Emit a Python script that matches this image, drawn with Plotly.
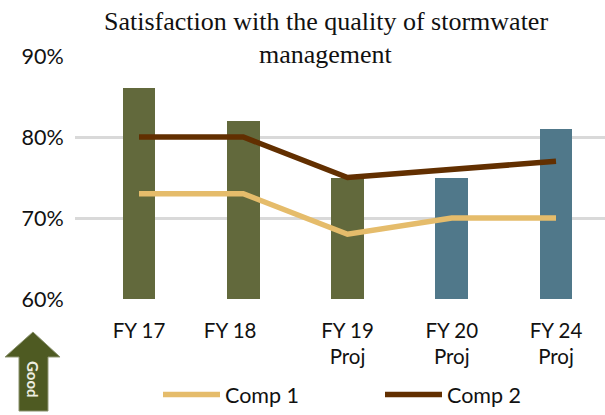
import plotly.graph_objects as go

W, H = 605, 415
categories = ["FY 17", "FY 18", "FY 19", "FY 20", "FY 24"]
tick_labels = ["FY 17", "FY 18\u00a0\u00a0\u00a0\u00a0\u00a0", "FY 19<br>Proj", "FY 20<br>Proj", "FY 24<br>Proj"]
bar_values = [86, 82, 75, 75, 81]
bar_colors = ["#62693C", "#62693C", "#62693C", "#50788A", "#50788A"]
comp1 = [73, 73, 68, 70, 70]
comp2 = [80, 80, 75, 76, 77]
y_ticks = [60, 70, 80, 90]
y_labels = ["60%", "70%", "80%", "90%"]
title_lines = ["Satisfaction with the quality of stormwater", "management"]

SANS = "Lato, Carlito, sans-serif"
SERIF = "Liberation Serif"
x = list(range(len(categories)))

fig = go.Figure()
fig.add_trace(go.Bar(x=x, y=bar_values, marker=dict(color=bar_colors, line_width=0),
                     width=0.316, showlegend=False, name="Satisfaction"))
fig.add_trace(go.Scatter(x=x, y=comp1, mode="lines", name="Comp 1",
                         line=dict(color="#E5BC6B", width=5.5)))
fig.add_trace(go.Scatter(x=x, y=comp2, mode="lines", name="Comp 2",
                         line=dict(color="#622F00", width=5.5)))

px = lambda v: v / W
py = lambda v: 1 - v / H
arrow = [(5, 357), (33, 332), (60, 357), (48, 357), (48, 411), (19, 411), (19, 357)]
path = "M " + " L ".join(f"{px(a):.4f},{py(b):.4f}" for a, b in arrow) + " Z"

fig.update_layout(
    width=W, height=H, autosize=False,
    margin=dict(l=0, r=0, t=0, b=0),
    paper_bgcolor="white", plot_bgcolor="white",
    font=dict(family=SANS, color="#111111", size=21),
    bargap=0,
    xaxis=dict(domain=[px(75), 1], range=[-0.614, 4.47], automargin=False,
               tickmode="array", tickvals=x, ticktext=tick_labels,
               showgrid=False, zeroline=False, showline=False,
               ticks="outside", ticklen=13, tickcolor="rgba(0,0,0,0)",
               tickfont=dict(family=SANS, size=20.5, color="#111111")),
    yaxis=dict(domain=[py(299), py(56)], range=[60, 90], automargin=False,
               tickmode="array", tickvals=y_ticks, ticktext=y_labels,
               showgrid=True, gridcolor="#D9D9D9", gridwidth=2.5,
               zeroline=False, showline=False,
               ticks="outside", ticklen=6, tickcolor="rgba(0,0,0,0)",
               tickfont=dict(family=SANS, size=21.5, color="#111111")),
    legend=dict(orientation="h", x=px(158), xref="paper", xanchor="left",
                y=0, yanchor="bottom", itemwidth=57,
                entrywidth=150, entrywidthmode="pixels",
                font=dict(family=SANS, size=21.5, color="#111111"),
                bgcolor="rgba(0,0,0,0)", traceorder="normal"),
    shapes=[dict(type="path", xref="paper", yref="paper", path=path,
                 fillcolor="#4E5A22", line=dict(color="#8C9470", width=1), layer="above")],
    annotations=[
        dict(text=title_lines[0], xref="paper", yref="paper", x=px(326), y=py(22),
             yanchor="middle", xanchor="center", showarrow=False,
             font=dict(family=SERIF, size=26, color="#111111")),
        dict(text=title_lines[1], xref="paper", yref="paper", x=px(326), y=py(54),
             yanchor="middle", xanchor="center", showarrow=False,
             font=dict(family=SERIF, size=26, color="#111111")),
        dict(text="<b>Good</b>", xref="paper", yref="paper", x=px(33), y=py(379),
             xanchor="center", yanchor="middle",
             showarrow=False, textangle=90,
             font=dict(family=SANS, size=15, color="#EDEDE0")),
    ],
)
fig.write_html("out.html", config={"displayModeBar": False},
               post_script="document.body.style.margin='0';")
